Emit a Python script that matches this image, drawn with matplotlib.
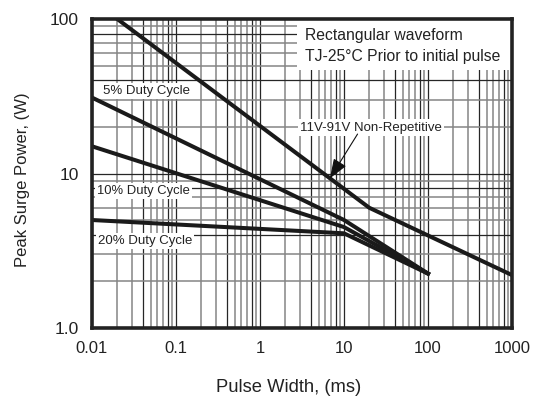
import matplotlib
matplotlib.use("Agg")
import matplotlib.pyplot as plt
from matplotlib.patches import Rectangle

plt.rcParams['font.family'] = ['Liberation Sans', 'DejaVu Sans']

# ---- data ----
nonrep_x = [0.02, 20, 1000]
nonrep_y = [100, 6.0, 2.2]
duty5_x = [0.01, 10, 100]
duty5_y = [31, 5.0, 2.25]
duty10_x = [0.01, 10, 100]
duty10_y = [15, 4.5, 2.25]
duty20_x = [0.01, 10, 100]
duty20_y = [5.0, 4.1, 2.25]

xticks = [0.01, 0.1, 1, 10, 100, 1000]
xticklabels = ['0.01', '0.1', '1', '10', '100', '1000']
yticks = [1, 10, 100]
yticklabels = ['1.0', '10', '100']

fig = plt.figure(figsize=(5.42, 4.01), dpi=100)
ax = fig.add_axes([92/542, 1-328/401, 420/542, 309/401])
ax.set_xscale('log')
ax.set_yscale('log')
ax.set_xlim(0.01, 1000)
ax.set_ylim(1, 100)

dark = '#262626'
gray = '#858585'
# grid
for dec in [0.01, 0.1, 1, 10, 100]:
    for m in range(1, 10):
        v = dec * m
        if m in (1, 4, 8):
            ax.axvline(v, color=dark, lw=0.9, zorder=1)
        else:
            ax.axvline(v, color=gray, lw=1.1, zorder=1)
for dec in [1, 10]:
    for m in range(1, 10):
        v = dec * m
        if m in (1, 4, 8):
            ax.axhline(v, color=dark, lw=0.9, zorder=1)
        else:
            ax.axhline(v, color=gray, lw=1.1, zorder=1)

# white box top right
ax.add_patch(Rectangle((0.488, 0.835), 0.512, 0.165, transform=ax.transAxes,
                       facecolor='white', edgecolor='none', zorder=2))

lc = '#1a1a1a'
for xs, ys in [(nonrep_x, nonrep_y), (duty5_x, duty5_y), (duty10_x, duty10_y), (duty20_x, duty20_y)]:
    ax.plot(xs, ys, color=lc, lw=2.9, zorder=4, solid_joinstyle='miter')

bb = dict(facecolor='white', edgecolor='none', pad=1.5)
ax.text(0.507, 0.945, 'Rectangular waveform', transform=ax.transAxes, fontsize=11.3,
        va='center', ha='left', zorder=5, color='#222')
ax.text(0.507, 0.880, 'TJ-25°C Prior to initial pulse', transform=ax.transAxes, fontsize=11.3,
        va='center', ha='left', zorder=5, color='#222')

def px(xp, yp):
    return ((xp - 92) / 420, (328 - yp) / 309)

x0, y0 = px(103, 91)
ax.text(x0, y0, '5% Duty Cycle', transform=ax.transAxes, fontsize=9.5, va='center', ha='left',
        bbox=bb, zorder=5, color='#222')
x0, y0 = px(97, 191)
ax.text(x0, y0, '10% Duty Cycle', transform=ax.transAxes, fontsize=9.4, va='center', ha='left',
        bbox=bb, zorder=5, color='#222')
x0, y0 = px(98, 241)
ax.text(x0, y0, '20% Duty Cycle', transform=ax.transAxes, fontsize=9.5, va='center', ha='left',
        bbox=bb, zorder=5, color='#222')
x0, y0 = px(300, 127.5)
ax.text(x0, y0, '11V-91V Non-Repetitive', transform=ax.transAxes, fontsize=9.5, va='center', ha='left',
        bbox=bb, zorder=5, color='#222')

ax.annotate('', xy=(6.8, 9.3), xytext=(14.5, 18.0), xycoords='data', textcoords='data',
            arrowprops=dict(arrowstyle='-|>,head_length=1.2,head_width=0.45', color='#111',
                            lw=0.8, shrinkA=0, shrinkB=0), zorder=6)

for s in ax.spines.values():
    s.set_linewidth(2.6)
    s.set_color('#222')
    s.set_zorder(7)

ax.set_xticks(xticks)
ax.set_xticklabels(xticklabels)
ax.set_yticks(yticks)
ax.set_yticklabels(yticklabels)
ax.minorticks_off()
ax.tick_params(length=0, colors='#222')
ax.tick_params(axis='x', pad=9.5, labelsize=12)
ax.tick_params(axis='y', pad=9.5, labelsize=12.5)

fig.text(23/542, 1-180/401, 'Peak Surge Power, (W)', rotation=90, ha='center', va='center',
         fontsize=12, color='#222')
fig.text(289/542, 1-388/401, 'Pulse Width, (ms)', ha='center', va='center',
         fontsize=13.2, color='#222')

fig.savefig('out.png', dpi=100)
